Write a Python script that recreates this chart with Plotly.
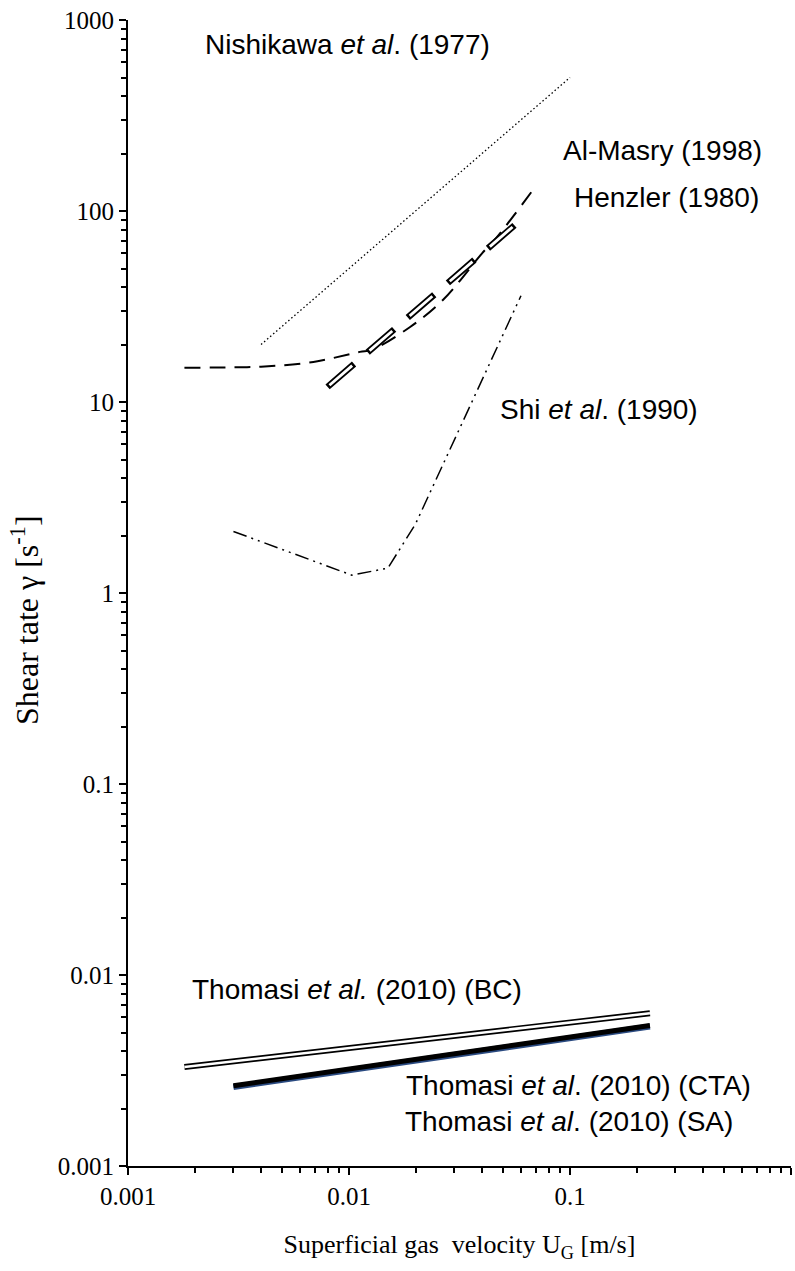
import math
import plotly.graph_objects as go

# ---- data ----
nish_x = [0.004, 0.01, 0.02, 0.05, 0.1]
nish_y = [20, 50, 100, 250, 500]

almasry_x = [0.0018, 0.003, 0.004, 0.0069, 0.0112, 0.0126, 0.0189, 0.0266, 0.04, 0.0467, 0.07]
almasry_y = [15.1, 15.2, 15.3, 16.2, 18.3, 18.7, 24.7, 34.2, 60, 73, 135]

henzler_x = [0.008, 0.063]
henzler_y = [12, 94.5]

shi_x = [0.003, 0.0103, 0.015, 0.02, 0.06]
shi_y = [2.1, 1.24, 1.35, 2.3, 36]

bc_x = [0.0018, 0.23]
bc_y = [0.0033, 0.0063]

sa_x = [0.003, 0.23]
sa_y = [0.00259, 0.00537]

cta_x = [0.003, 0.23]
cta_y = [0.00263, 0.00544]

x_ticks = [0.001, 0.01, 0.1, 1]
x_ticktext = ["0.001", "0.01", "0.1", "1"]
y_ticks = [0.001, 0.01, 0.1, 1, 10, 100, 1000]
y_ticktext = ["0.001", "0.01", "0.1", "1", "10", "100", "1000"]

labels = [
    ("Nishikawa <i>et al</i>. (1977)", 0.0098, 740),
    ("Al-Masry (1998)", 0.262, 208),
    ("Henzler (1980)", 0.272, 118),
    ("Shi <i>et al</i>. (1990)", 0.135, 9.1),
    ("Thomasi <i>et al.</i> (2010) (BC)", 0.0109, 0.0084),
    ("Thomasi <i>et al</i>. (2010) (CTA)", 0.1087, 0.00265),
    ("Thomasi <i>et al</i>. (2010) (SA)", 0.0989, 0.0017),
]

minor_x = [m * 10 ** e for e in (-3, -2, -1) for m in range(2, 10)]
minor_y = [m * 10 ** e for e in (-3, -2, -1, 0, 1, 2) for m in range(2, 10)]

fig = go.Figure()

def add(x, y, color="black", width=2, dash="solid", shape="linear"):
    fig.add_trace(go.Scatter(x=x, y=y, mode="lines", showlegend=False,
                             hoverinfo="skip",
                             line=dict(color=color, width=width, dash=dash, shape=shape)))

add(nish_x, nish_y, width=1.3, dash="1.5px,2.5px")
add(almasry_x, almasry_y, width=2, dash="16px,9px", shape="spline")
add(henzler_x, henzler_y, width=6.5, dash="35px,18px")
add(henzler_x, henzler_y, color="white", width=2.8, dash="0px,2.5px,30px,20.5px")
add(shi_x, shi_y, width=1.5, dash="14px,5px,2px,5px,2px,5px")
add(bc_x, bc_y, width=6)
add(bc_x, bc_y, color="white", width=2.6)
add(sa_x, sa_y, color="#2a4a80", width=6)
add(cta_x, cta_y, width=5)

for txt, x, y in labels:
    fig.add_annotation(x=math.log10(x), y=math.log10(y), xref="x", yref="y", text=txt,
                       showarrow=False,
                       font=dict(family="Liberation Sans, Arial", size=28, color="black"),
                       xanchor="center", yanchor="middle")

serif = "Liberation Serif, Times New Roman"
tickfont = dict(family=serif, size=25, color="black")

W, H = 795, 1271
L, R, T, B = 128, 4, 20, 105
pw, ph = W - L - R, H - T - B

# y-axis title as rotated annotation (pixel position converted to paper coords)
fig.add_annotation(x=(25 - L) / pw, y=(H - B - 620) / ph, xref="paper", yref="paper",
                   text="Shear tate \u03b3 [s<sup>-1</sup>]",
                   showarrow=False, textangle=-90, xanchor="center", yanchor="middle",
                   font=dict(family=serif, size=32, color="black"))

fig.update_xaxes(type="log", range=[-3, 0], showline=True, linecolor="black", linewidth=2,
                 ticks="outside", ticklen=7, tickwidth=2, tickcolor="black",
                 tickmode="array", tickvals=x_ticks, ticktext=x_ticktext,
                 tickfont=tickfont, showgrid=False, zeroline=False,
                 minor=dict(tickmode="array", tickvals=minor_x, ticks="outside",
                            ticklen=5, tickwidth=1.5, tickcolor="black", showgrid=False),
                 title=dict(text="Superficial gas\u00a0 velocity U<sub>G</sub> [m/s]",
                            font=dict(family=serif, size=26, color="black"),
                            standoff=26))
fig.update_yaxes(type="log", range=[-3, 3], showline=True, linecolor="black", linewidth=2,
                 ticks="outside", ticklen=7, tickwidth=2, tickcolor="black",
                 tickmode="array", tickvals=y_ticks, ticktext=y_ticktext,
                 tickfont=tickfont, showgrid=False, zeroline=False,
                 minor=dict(tickmode="array", tickvals=minor_y, ticks="outside",
                            ticklen=5, tickwidth=1.5, tickcolor="black", showgrid=False))

fig.update_layout(width=W, height=H, margin=dict(l=L, r=R, t=T, b=B),
                  plot_bgcolor="white", paper_bgcolor="white")

fig.write_html("out.html")
